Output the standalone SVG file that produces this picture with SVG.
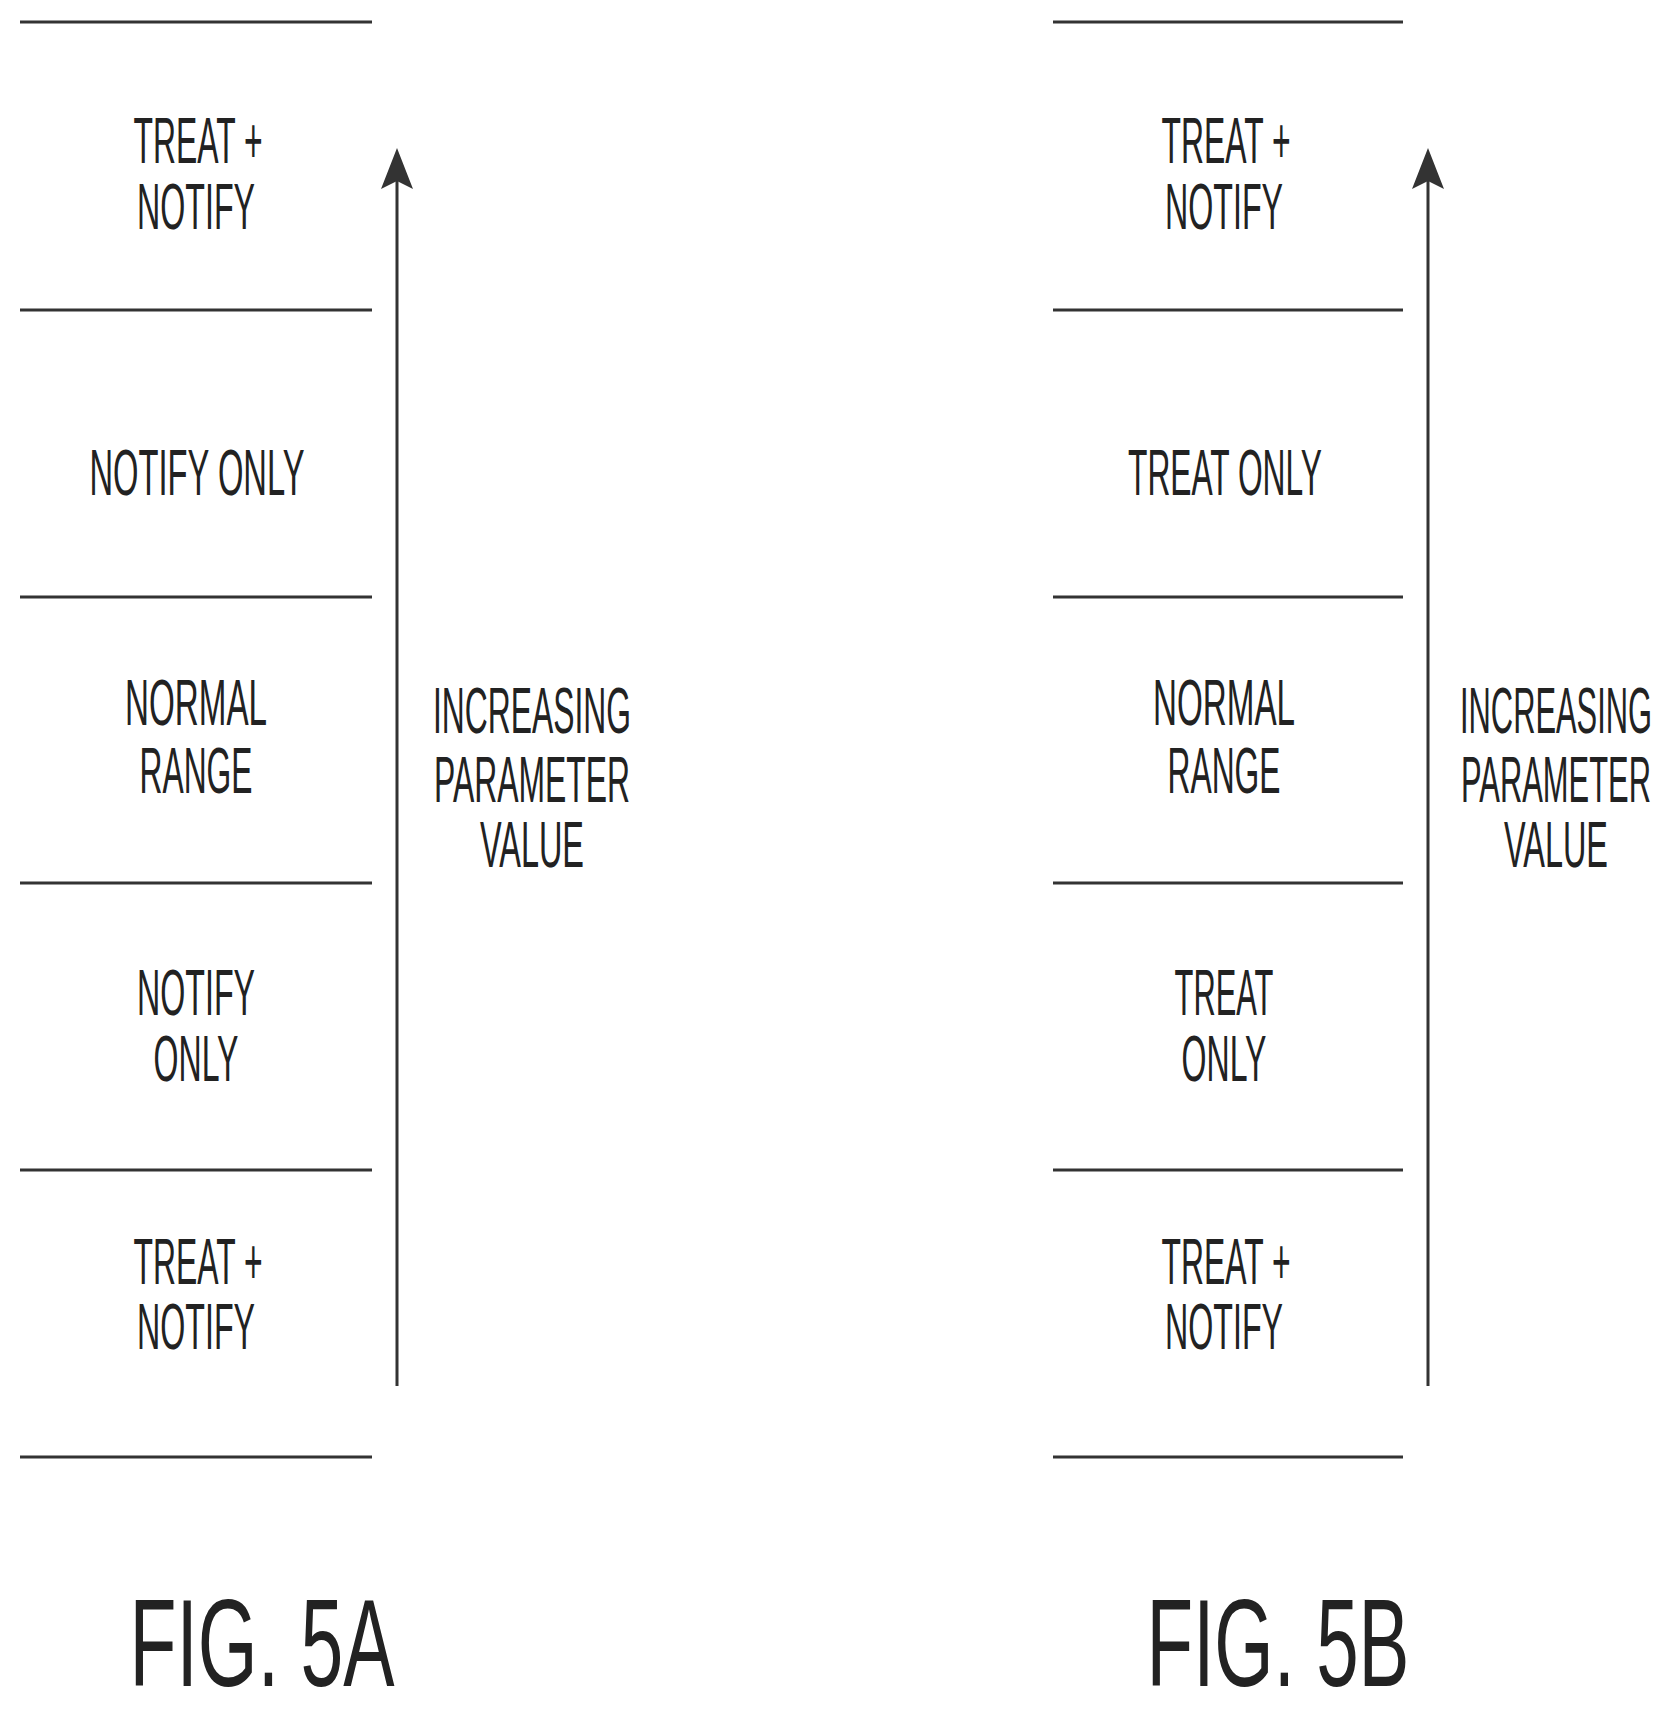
<svg xmlns="http://www.w3.org/2000/svg" width="1675" height="1710" viewBox="0 0 1675 1710">
<style>
.t{font-family:"Liberation Sans",Arial,sans-serif;font-size:64px;fill:#222;text-anchor:middle}
.f{font-family:"Liberation Sans",Arial,sans-serif;font-size:124px;fill:#222;text-anchor:middle}
.l{stroke:#333;stroke-width:3}
</style>
<g id="fig5a">
<g id="lines-a">
<line class="l" x1="20" y1="22" x2="372" y2="22"/>
<line class="l" x1="20" y1="310" x2="372" y2="310"/>
<line class="l" x1="20" y1="597" x2="372" y2="597"/>
<line class="l" x1="20" y1="883" x2="372" y2="883"/>
<line class="l" x1="20" y1="1170" x2="372" y2="1170"/>
<line class="l" x1="20" y1="1457" x2="372" y2="1457"/>
</g>
<g id="connectors-a">
<line class="l" x1="397" y1="1386" x2="397" y2="175"/>
<path d="M397,148 L381,189 L397,181 L413,189 Z" fill="#333"/>
</g>
<g id="a-tn1"><text class="t" x="198" y="163" textLength="129" lengthAdjust="spacingAndGlyphs">TREAT +</text><text class="t" x="196" y="229" textLength="118" lengthAdjust="spacingAndGlyphs">NOTIFY</text></g>
<g id="a-no1"><text class="t" x="197" y="495" textLength="215" lengthAdjust="spacingAndGlyphs">NOTIFY ONLY</text></g>
<g id="a-nr"><text class="t" x="196" y="725" textLength="142" lengthAdjust="spacingAndGlyphs">NORMAL</text><text class="t" x="196" y="793" textLength="113" lengthAdjust="spacingAndGlyphs">RANGE</text></g>
<g id="a-no2"><text class="t" x="196" y="1015" textLength="118" lengthAdjust="spacingAndGlyphs">NOTIFY</text><text class="t" x="196" y="1081" textLength="85" lengthAdjust="spacingAndGlyphs">ONLY</text></g>
<g id="a-tn2"><text class="t" x="198" y="1284" textLength="129" lengthAdjust="spacingAndGlyphs">TREAT +</text><text class="t" x="196" y="1349" textLength="118" lengthAdjust="spacingAndGlyphs">NOTIFY</text></g>
<g id="a-axis"><text class="t" x="532" y="733" textLength="198" lengthAdjust="spacingAndGlyphs">INCREASING</text><text class="t" x="532" y="802" textLength="196" lengthAdjust="spacingAndGlyphs">PARAMETER</text><text class="t" x="532" y="867" textLength="104" lengthAdjust="spacingAndGlyphs">VALUE</text></g>
<text class="f" x="262" y="1686" textLength="265" lengthAdjust="spacingAndGlyphs">FIG. 5A</text>
</g>
<g id="fig5b">
<g id="lines-b">
<line class="l" x1="1053" y1="22" x2="1403" y2="22"/>
<line class="l" x1="1053" y1="310" x2="1403" y2="310"/>
<line class="l" x1="1053" y1="597" x2="1403" y2="597"/>
<line class="l" x1="1053" y1="883" x2="1403" y2="883"/>
<line class="l" x1="1053" y1="1170" x2="1403" y2="1170"/>
<line class="l" x1="1053" y1="1457" x2="1403" y2="1457"/>
</g>
<g id="connectors-b">
<line class="l" x1="1428" y1="1386" x2="1428" y2="175"/>
<path d="M1428,148 L1412,189 L1428,181 L1444,189 Z" fill="#333"/>
</g>
<g id="b-tn1"><text class="t" x="1226" y="163" textLength="129" lengthAdjust="spacingAndGlyphs">TREAT +</text><text class="t" x="1224" y="229" textLength="118" lengthAdjust="spacingAndGlyphs">NOTIFY</text></g>
<g id="b-to1"><text class="t" x="1225" y="495" textLength="194" lengthAdjust="spacingAndGlyphs">TREAT ONLY</text></g>
<g id="b-nr"><text class="t" x="1224" y="725" textLength="142" lengthAdjust="spacingAndGlyphs">NORMAL</text><text class="t" x="1224" y="793" textLength="113" lengthAdjust="spacingAndGlyphs">RANGE</text></g>
<g id="b-to2"><text class="t" x="1224" y="1015" textLength="99" lengthAdjust="spacingAndGlyphs">TREAT</text><text class="t" x="1224" y="1081" textLength="85" lengthAdjust="spacingAndGlyphs">ONLY</text></g>
<g id="b-tn2"><text class="t" x="1226" y="1284" textLength="129" lengthAdjust="spacingAndGlyphs">TREAT +</text><text class="t" x="1224" y="1349" textLength="118" lengthAdjust="spacingAndGlyphs">NOTIFY</text></g>
<g id="b-axis"><text class="t" x="1556" y="733" textLength="192" lengthAdjust="spacingAndGlyphs">INCREASING</text><text class="t" x="1556" y="802" textLength="190" lengthAdjust="spacingAndGlyphs">PARAMETER</text><text class="t" x="1556" y="867" textLength="104" lengthAdjust="spacingAndGlyphs">VALUE</text></g>
<text class="f" x="1278" y="1686" textLength="263" lengthAdjust="spacingAndGlyphs">FIG. 5B</text>
</g>
</svg>
